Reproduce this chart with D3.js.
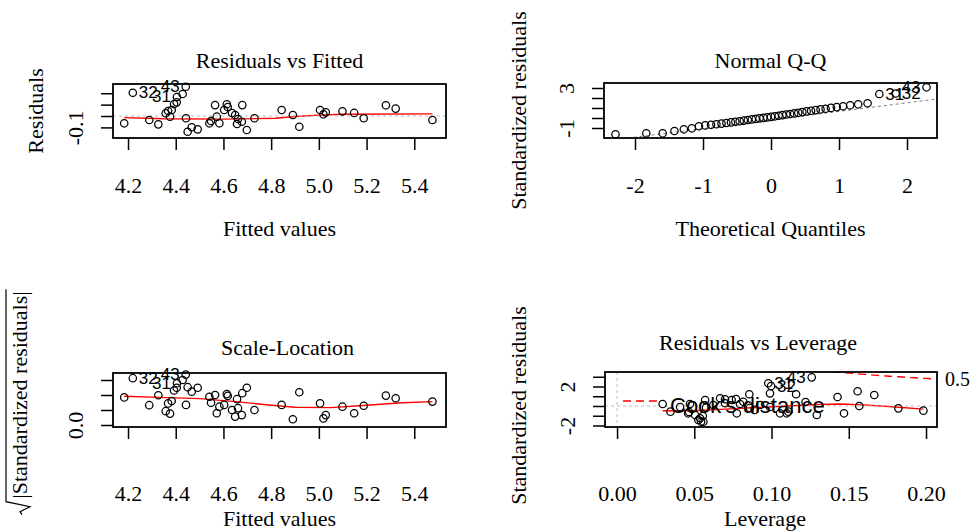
<!DOCTYPE html>
<html>
<head>
<meta charset="utf-8">
<script src="https://cdn.jsdelivr.net/npm/d3@7/dist/d3.min.js"></script>
<style>
body { margin: 0; background: #fff; }
svg { display: block; }
</style>
</head>
<body>
<svg width="971" height="531"></svg>
<script>

// Residuals vs Fitted / Scale-Location (same fitted values)
var fitted = [4.184, 4.220, 4.289, 4.327, 4.358, 4.368, 4.376, 4.383, 4.393, 4.404, 4.405, 4.429, 4.442, 4.443, 4.450,
  4.467, 4.492, 4.541, 4.548, 4.565, 4.572, 4.583, 4.603, 4.614, 4.618, 4.636, 4.649, 4.657, 4.661, 4.677,
  4.679, 4.698, 4.730, 4.844, 4.891, 4.918, 5.005, 5.019, 5.029, 5.099, 5.148, 5.188, 5.281, 5.322, 5.476];
var residuals = [-0.064, 0.204, -0.035, -0.073, 0.024, 0.044, -0.006, 0.053, 0.105, 0.120, 0.167, 0.193, 0.257, -0.020, -0.138,
  -0.099, -0.117, -0.064, -0.044, 0.096, -0.006, -0.064, 0.053, 0.103, 0.079, 0.026, 0.009, -0.070, -0.026, -0.050,
  0.096, -0.123, -0.020, 0.053, 0.009, -0.094, 0.053, 0.015, 0.032, 0.041, 0.027, -0.020, 0.094, 0.065, -0.035];
var rootStdRes = [0.92, 1.56, 0.66, 0.99, 0.46, 0.72, 0.38, 0.80, 1.15, 1.24, 1.39, 1.50, 1.68, 0.67, 1.26,
  1.11, 1.24, 0.94, 0.74, 1.00, 0.39, 0.61, 0.67, 1.03, 0.97, 0.50, 0.28, 0.86, 0.56, 0.33,
  1.06, 1.24, 0.50, 0.67, 0.19, 1.09, 0.72, 0.22, 0.33, 0.61, 0.39, 0.64, 0.98, 0.89, 0.78];
var rvfSmooth = [[4.184, -0.014], [4.35, -0.024], [4.6, -0.027], [4.82, -0.02], [4.9, -0.004], [5.0, 0.008], [5.1, 0.016], [5.476, 0.019]];
var slSmooth = [[4.184, 0.96], [4.33, 0.92], [4.5, 0.88], [4.65, 0.78], [4.8, 0.66], [4.9, 0.59], [5.05, 0.58], [5.2, 0.66], [5.35, 0.74], [5.476, 0.78]];

// Normal Q-Q
var qqTheoretical = [-2.287, -1.834, -1.593, -1.42, -1.282, -1.164, -1.06, -0.967, -0.882, -0.803, -0.728, -0.657, -0.589, -0.524, -0.461,
  -0.4, -0.341, -0.282, -0.225, -0.168, -0.112, -0.056, 0, 0.056, 0.112, 0.168, 0.225, 0.282, 0.341, 0.4,
  0.461, 0.524, 0.589, 0.657, 0.728, 0.803, 0.882, 0.967, 1.06, 1.164, 1.282, 1.42, 1.593, 1.834, 2.287];
var qqStdRes = [-1.63, -1.53, -1.53, -1.30, -1.13, -1.03, -0.82, -0.74, -0.68, -0.62, -0.56, -0.50, -0.44, -0.38, -0.32,
  -0.26, -0.20, -0.14, -0.09, -0.04, 0.01, 0.06, 0.11, 0.17, 0.23, 0.29, 0.35, 0.40, 0.46, 0.52,
  0.59, 0.66, 0.72, 0.79, 0.86, 0.93, 1.01, 1.09, 1.18, 1.27, 1.37, 1.48, 2.40, 2.45, 3.07];
var qqIntercept = -0.2, qqSlope = 0.86;

// Residuals vs Leverage
var leverage = [0.0295, 0.0346, 0.0408, 0.0466, 0.0505, 0.0526, 0.0537, 0.0555, 0.0544, 0.057, 0.0576, 0.0623, 0.0667, 0.0699, 0.0742,
  0.0775, 0.0817, 0.0856, 0.0979, 0.099, 0.1055, 0.1098, 0.1109, 0.1159, 0.126, 0.1293, 0.1427, 0.1469, 0.1557, 0.1568,
  0.1665, 0.1821, 0.1983, 0.0997, 0.046, 0.0559, 0.0699, 0.077, 0.0926, 0.086, 0.099, 0.122, 0.0472, 0.0796, 0.089];
var levStdRes = [0.20, -0.58, -0.10, -0.62, -0.92, -1.44, -1.26, -1.03, -1.61, 0.62, -0.17, 0.10, 0.79, 0.28, 0.62,
  -0.75, 0.44, 1.20, 2.33, 1.30, -0.75, -0.75, -0.58, 1.20, 2.94, -0.92, 0.92, -0.75, 1.51, 0.00,
  1.13, -0.24, -0.48, 2.05, -0.75, -1.61, 0.69, 0.72, 0.10, -0.20, -0.10, 0.41, 0.20, 0.20, -0.40];
var rvlSmooth = [[0.0295, -0.48], [0.05, -0.48], [0.07, -0.32], [0.09, -0.15], [0.11, 0.0], [0.13, 0.15], [0.145, 0.2], [0.16, 0.12], [0.18, -0.1], [0.1983, -0.32]];
var cookLevels = [0.5, 1];
var nCoef = 4;

// point ids shown on each panel (index into the arrays above)
var rvfIds = [{i: 1, label: "32", side: "right"}, {i: 10, label: "31", side: "left"}, {i: 12, label: "43", side: "left"}];
var qqIds = [{i: 42, label: "31", side: "right"}, {i: 43, label: "32", side: "right"}, {i: 44, label: "43", side: "left"}];
var slIds = [{i: 1, label: "32", side: "right"}, {i: 10, label: "31", side: "left"}, {i: 12, label: "43", side: "left"}];
var rvlIds = [{i: 18, label: "31", side: "right"}, {i: 33, label: "32", side: "right"}, {i: 24, label: "43", side: "left"}];

var fittedTicks = [4.2, 4.4, 4.6, 4.8, 5.0, 5.2, 5.4];
var quantileTicks = [-2, -1, 0, 1, 2];
var leverageTicks = [0, 0.05, 0.1, 0.15, 0.2];

var svg = d3.select("svg");
var serif = "'Liberation Serif', 'Times New Roman', serif";
var sans = "'Liberation Sans', Arial, sans-serif";
var fs = 22;

function fmt1(d) { return d.toFixed(1); }
function fmt2(d) { return d.toFixed(2); }
function fmt0(d) { return String(d); }

function makePanel(p) {
  var x = d3.scaleLinear().domain(p.xDomain).range([p.left, p.right]);
  var y = d3.scaleLinear().domain(p.yDomain).range([p.bottom, p.top]);
  var g = svg.append("g");
  svg.append("clipPath").attr("id", p.id).append("rect")
    .attr("x", p.left).attr("y", p.top)
    .attr("width", p.right - p.left).attr("height", p.bottom - p.top);
  var plot = g.append("g").attr("clip-path", "url(#" + p.id + ")");

  var xa = g.append("g").attr("transform", "translate(0," + p.bottom + ")")
    .call(d3.axisBottom(x).tickValues(p.xTicks).tickSize(12).tickFormat(p.xFormat));
  var ya = g.append("g").attr("transform", "translate(" + p.left + ",0)")
    .call(d3.axisLeft(y).tickValues(p.yTicks).tickSize(12)
      .tickFormat(function(d) { return p.yShown.indexOf(d) >= 0 ? p.yFormat(d) : ""; }));
  [xa, ya].forEach(function(a) {
    a.select(".domain").remove();
    a.attr("font-family", serif).attr("font-size", fs);
    a.selectAll("line").attr("stroke", "#000").attr("stroke-width", 1.5);
    a.selectAll("text").attr("fill", "#000");
  });
  xa.selectAll("text").attr("dy", null).attr("y", p.xLabGap).attr("dominant-baseline", "central");
  ya.selectAll("text").attr("x", null).attr("dy", null)
    .attr("transform", "translate(-38,0) rotate(-90)")
    .attr("text-anchor", "middle").attr("dominant-baseline", "central");

  var cx = (p.left + p.right) / 2;
  g.append("text").attr("x", cx + (p.titleShift || 0)).attr("y", p.titleY)
    .attr("text-anchor", "middle").attr("dominant-baseline", "central")
    .attr("font-family", serif).attr("font-size", fs).text(p.title);
  g.append("text").attr("x", cx + (p.xlabShift || 0)).attr("y", p.xlabY)
    .attr("text-anchor", "middle").attr("dominant-baseline", "central")
    .attr("font-family", serif).attr("font-size", fs).text(p.xlab);
  if (p.ylab) {
    g.append("text").attr("transform", "translate(" + p.ylabX + "," + ((p.top + p.bottom) / 2 + (p.ylabShift || 0)) + ") rotate(-90)")
      .attr("text-anchor", "middle").attr("dominant-baseline", "central")
      .attr("font-family", serif).attr("font-size", fs).text(p.ylab);
  }
  return {g: g, plot: plot, x: x, y: y, p: p};
}

function drawBox(P) {
  var p = P.p;
  P.g.append("rect").attr("x", p.left).attr("y", p.top)
    .attr("width", p.right - p.left).attr("height", p.bottom - p.top)
    .attr("fill", "none").attr("stroke", "#000").attr("stroke-width", 1.8);
}

function hline(P, v, color) {
  P.plot.append("line").attr("x1", P.p.left).attr("x2", P.p.right)
    .attr("y1", P.y(v)).attr("y2", P.y(v))
    .attr("stroke", color).attr("stroke-width", 1).attr("stroke-dasharray", "3,3");
}

function smooth(P, pts) {
  P.plot.append("path").datum(pts)
    .attr("d", d3.line().x(function(d) { return P.x(d[0]); }).y(function(d) { return P.y(d[1]); }))
    .attr("fill", "none").attr("stroke", "#ff0000").attr("stroke-width", 1.4);
}

function points(P, xs, ys) {
  P.g.append("g").selectAll("circle").data(xs).enter().append("circle")
    .attr("cx", function(d) { return P.x(d); })
    .attr("cy", function(d, i) { return P.y(ys[i]); })
    .attr("r", 3.7).attr("fill", "none").attr("stroke", "#000").attr("stroke-width", 1.25);
}

function ids(P, xs, ys, list) {
  P.g.append("g").selectAll("text").data(list).enter().append("text")
    .attr("x", function(d) { return P.x(xs[d.i]) + (d.side == "right" ? 6 : -6); })
    .attr("y", function(d) { return P.y(ys[d.i]); })
    .attr("text-anchor", function(d) { return d.side == "right" ? "start" : "end"; })
    .attr("dominant-baseline", "central")
    .attr("font-family", sans).attr("font-size", 17).text(function(d) { return d.label; });
}

// 1. Residuals vs Fitted
var P1 = makePanel({id: "c1", left: 113, right: 446, top: 84, bottom: 138,
  xDomain: [4.137, 5.533], yDomain: [-0.193, 0.281], xTicks: fittedTicks, xFormat: fmt1,
  yTicks: [-0.1, 0, 0.1, 0.2], yShown: [-0.1], yFormat: fmt1, xLabGap: 47,
  title: "Residuals vs Fitted", titleY: 60, xlab: "Fitted values", xlabY: 228, ylab: "Residuals", ylabX: 35});
points(P1, fitted, residuals);
smooth(P1, rvfSmooth);
hline(P1, 0, "#bebebe");
ids(P1, fitted, residuals, rvfIds);
drawBox(P1);

// 2. Normal Q-Q
var P2 = makePanel({id: "c2", left: 604, right: 937, top: 83, bottom: 138,
  xDomain: [-2.456, 2.441], yDomain: [-2.0, 3.5], xTicks: quantileTicks, xFormat: fmt0,
  yTicks: [-1, 0, 1, 2, 3], yShown: [-1, 3], yFormat: fmt0, xLabGap: 47,
  title: "Normal Q-Q", titleY: 60, xlab: "Theoretical Quantiles", xlabY: 228, ylab: "Standardized residuals", ylabX: 518});
points(P2, qqTheoretical, qqStdRes);
P2.plot.append("line")
  .attr("x1", P2.x(P2.x.domain()[0])).attr("y1", P2.y(qqIntercept + qqSlope * P2.x.domain()[0]))
  .attr("x2", P2.x(P2.x.domain()[1])).attr("y2", P2.y(qqIntercept + qqSlope * P2.x.domain()[1]))
  .attr("stroke", "#7f7f7f").attr("stroke-width", 1).attr("stroke-dasharray", "3,3");
ids(P2, qqTheoretical, qqStdRes, qqIds);
drawBox(P2);

// 3. Scale-Location
var P3 = makePanel({id: "c3", left: 113, right: 446, top: 373, bottom: 427,
  xDomain: [4.137, 5.533], yDomain: [-0.067, 1.733], xTicks: fittedTicks, xFormat: fmt1,
  yTicks: [0, 0.5, 1, 1.5], yShown: [0], yFormat: fmt1, xLabGap: 66,
  title: "Scale-Location", titleY: 347, titleShift: 8, xlab: "Fitted values", xlabY: 518});
points(P3, fitted, rootStdRes);
smooth(P3, slSmooth);
ids(P3, fitted, rootStdRes, slIds);
drawBox(P3);
(function() {
  var g = svg.append("g").attr("transform", "translate(19,395) rotate(-90)");
  var t = g.append("text").attr("text-anchor", "middle").attr("dominant-baseline", "central")
    .attr("font-family", serif).attr("font-size", fs).text("|Standardized residuals|");
  var w = t.node().getComputedTextLength();
  var x0 = -w / 2 - 2, top = -13;
  g.append("path")
    .attr("d", "M" + (x0 - 14) + ",3L" + (x0 - 11) + ",1L" + (x0 - 6) + ",11L" + (x0 - 1) + "," + top + "L" + (w / 2 + 2) + "," + top)
    .attr("fill", "none").attr("stroke", "#000").attr("stroke-width", 1.2);
})();

// 4. Residuals vs Leverage
var P4 = makePanel({id: "c4", left: 605, right: 937, top: 372, bottom: 427,
  xDomain: [-0.0078, 0.2071], yDomain: [-2.154, 3.487], xTicks: leverageTicks, xFormat: fmt2,
  yTicks: [-2, -1, 0, 1, 2, 3], yShown: [-2, 2], yFormat: fmt0, xLabGap: 66,
  title: "Residuals vs Leverage", titleY: 342, titleShift: -13, xlab: "Leverage", xlabY: 518, xlabShift: -6,
  ylab: "Standardized residuals", ylabX: 518, ylabShift: 6});
points(P4, leverage, levStdRes);
smooth(P4, rvlSmooth);
hline(P4, 0, "#bebebe");
P4.plot.append("line").attr("x1", P4.x(0)).attr("x2", P4.x(0)).attr("y1", P4.p.top).attr("y2", P4.p.bottom)
  .attr("stroke", "#bebebe").attr("stroke-width", 1).attr("stroke-dasharray", "3,3");
// Cook's distance contours
var hMax = P4.x.domain()[1];
var hh = d3.range(101).map(function(i) { return 0.002 + i * (hMax - 0.002) / 100; });
cookLevels.forEach(function(cl) {
  [1, -1].forEach(function(sgn) {
    P4.plot.append("path").datum(hh)
      .attr("d", d3.line().x(function(h) { return P4.x(h); })
        .y(function(h) { return P4.y(sgn * Math.sqrt(cl * nCoef * (1 - h) / h)); }))
      .attr("fill", "none").attr("stroke", "#ff0000").attr("stroke-width", 1.4).attr("stroke-dasharray", "8,5");
  });
});
cookLevels.forEach(function(cl) {
  var v = Math.sqrt(cl * nCoef * (1 - hMax) / hMax);
  if (v < P4.y.domain()[1]) {
    P4.g.append("text").attr("x", P4.p.right + 8).attr("y", P4.y(v))
      .attr("dominant-baseline", "central").attr("font-family", serif).attr("font-size", 20).text(String(cl));
  }
});
ids(P4, leverage, levStdRes, rvlIds);
// legend
P4.g.append("line").attr("x1", P4.p.left + 18).attr("x2", P4.p.left + 53)
  .attr("y1", P4.p.bottom - 26).attr("y2", P4.p.bottom - 26)
  .attr("stroke", "#ff0000").attr("stroke-width", 1.4).attr("stroke-dasharray", "8,5");
P4.g.append("text").attr("x", P4.p.left + 65).attr("y", P4.p.bottom - 22)
  .attr("dominant-baseline", "central").attr("font-family", sans).attr("font-size", fs).text("Cook's distance");
drawBox(P4);
</script>
</body>
</html>
